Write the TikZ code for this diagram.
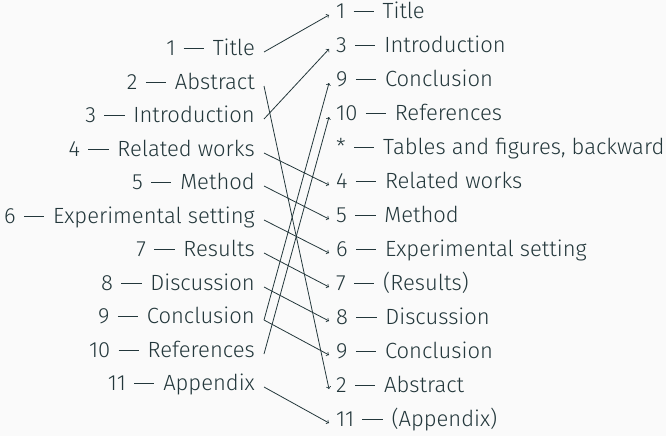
\documentclass[tikz,border=0pt]{standalone}
\usepackage{fontspec}
\IfFontExistsTF{Fira Sans Book}{\setmainfont{Fira Sans Book}}{\setmainfont{Fira Sans Light}}
\definecolor{ink}{HTML}{23373B}
\definecolor{bg}{HTML}{FAFAFA}
\newcommand{\dsh}{\hspace{0.38em}\rule[0.31em]{0.92em}{0.9pt}\hspace{0.4em}}
\begin{document}
\begin{tikzpicture}[x=1pt,y=-1pt,
  every node/.style={text=ink,font=\fontsize{22}{24}\selectfont,
    text height=0.7em,text depth=0pt,inner ysep=0pt},
  lft/.style={anchor=east,inner xsep=9pt},
  rgt/.style={anchor=west,inner xsep=7pt},
  link/.style={draw=ink,line width=0.8pt,-to}]
\fill[bg] (0,0) rectangle (666,436);
\useasboundingbox (0,0) rectangle (666,436);
% left column
\foreach \i/\t in {1/Title,2/Abstract,3/Introduction,4/Related works,5/Method,
  6/Experimental setting,7/Results,8/Discussion,9/Conclusion,10/References,11/Appendix}
  \node[lft] (l\i) at (264,{round(52+33.5*(\i-1))}) {\i\dsh\t};
% right column
\node[rgt] (r1)  at (329,{15+34*0})  {1\dsh Title};
\node[rgt] (r3)  at (329,{15+34*1})  {3\dsh Introduction};
\node[rgt] (r9a) at (329,{15+34*2})  {9\dsh Conclusion};
\node[rgt] (r10) at (329,{15+34*3})  {10\dsh References};
\node[rgt] (rs)  at (329,{15+34*4})  {*\dsh Tables and figures, backward};
\node[rgt] (r4)  at (329,{15+34*5})  {4\dsh Related works};
\node[rgt] (r5)  at (329,{15+34*6})  {5\dsh Method};
\node[rgt] (r6)  at (329,{15+34*7})  {6\dsh Experimental setting};
\node[rgt] (r7)  at (329,{15+34*8})  {7\dsh (Results)};
\node[rgt] (r8)  at (329,{15+34*9})  {8\dsh Discussion};
\node[rgt] (r9)  at (329,{15+34*10}) {9\dsh Conclusion};
\node[rgt] (r2)  at (329,{15+34*11}) {2\dsh Abstract};
\node[rgt] (r11) at (329,{15+34*12}) {11\dsh (Appendix)};
% links
\draw[link] (l1.east) -- (r1.west);
\draw[link] (l2.east) -- (r2.west);
\draw[link] (l3.east) -- (r3.west);
\draw[link] (l4.east) -- (r4.west);
\draw[link] (l5.east) -- (r5.west);
\draw[link] (l6.east) -- (r6.west);
\draw[link] (l7.east) -- (r7.west);
\draw[link] (l8.east) -- (r8.west);
\draw[link] (l9.east) -- (r9a.west);
\draw[link] (l9.east) -- (r9.west);
\draw[link] (l10.east) -- (r10.west);
\draw[link] (l11.east) -- (r11.west);
\end{tikzpicture}
\end{document}
